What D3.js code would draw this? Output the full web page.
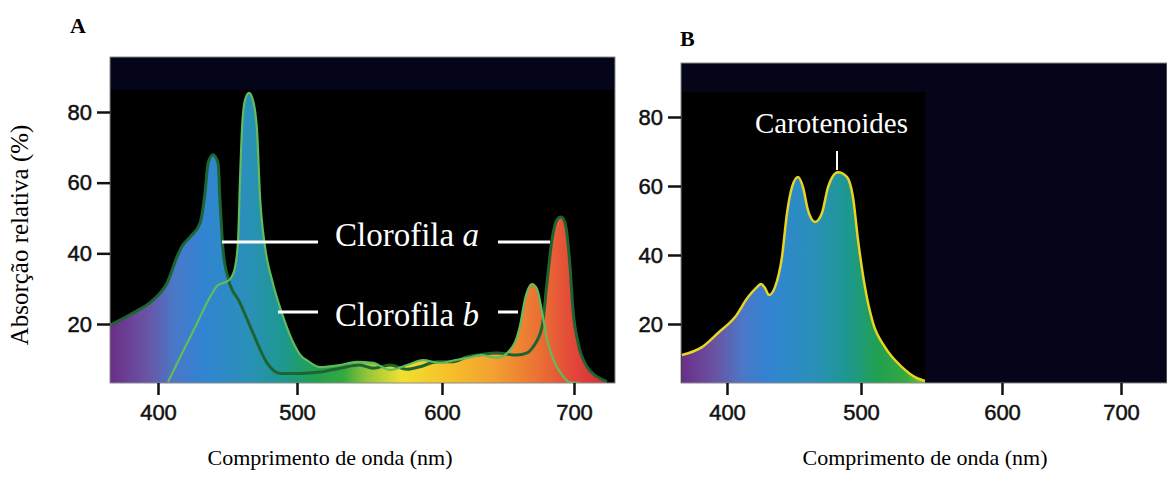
<!DOCTYPE html>
<html>
<head>
<meta charset="utf-8">
<script src="https://cdn.jsdelivr.net/npm/d3@7/dist/d3.min.js"></script>
<style>
  html, body { margin: 0; padding: 0; background: #ffffff; }
  svg { display: block; }
</style>
</head>
<body>
<svg id="chart" width="1167" height="491"></svg>
<script>
// ---- dados ----
// Clorofila a (contorno verde escuro)
var clorofilaA_nm  = [365.5, 382, 396.4, 406.5, 413.7, 417.3, 423, 430.2, 433.8, 436, 439.6, 443.2, 444.6, 446.8, 450.4, 459, 468.3, 478.4, 487.8, 502, 515.9, 529.7, 543.4, 552.4, 564.1, 575.9, 584.8, 596.6, 608.3, 618.9, 628.8, 641.7, 656.8, 664.4, 668.9, 675.8, 679.5, 683.3, 687.1, 690.2, 693.2, 697, 699.2, 703, 709.8, 717.4, 725];
var clorofilaA_abs = [19.7, 23.1, 26.8, 31.6, 39, 42, 44.6, 48.5, 57, 65.5, 67.9, 65.5, 55, 41, 33, 26, 17.5, 9, 6, 6, 6.4, 7.5, 8.4, 7.5, 8.4, 7.2, 7.9, 9.3, 9.3, 10.7, 11.3, 11.8, 11.2, 11.8, 13.5, 19.2, 31.6, 43.8, 49.5, 50.3, 48.6, 36.3, 24.1, 14.8, 7.9, 5.1, 3.7];

// Clorofila b (contorno verde claro)
var clorofilaB_nm  = [407.2, 417.3, 426.6, 436, 443.2, 446.8, 451.8, 455.4, 457.6, 459, 460.4, 462.6, 465.5, 468.3, 471.2, 473.4, 477, 482, 489.2, 496.4, 503.4, 506.9, 515.9, 529.7, 541.4, 552.4, 564.1, 575.9, 586.9, 598.6, 610.3, 619.4, 629.5, 641.7, 653.8, 659.1, 662.9, 668.2, 672, 675.8, 679.5, 684.1, 689.4, 697, 704.5];
var clorofilaB_abs = [3.6, 11.7, 19, 26.6, 31, 31.6, 32.7, 36, 43.7, 60.8, 75, 83.4, 85.4, 83.4, 75, 56, 41.8, 32.5, 23, 15.5, 10.7, 9.7, 7.8, 8.4, 9.3, 9, 7, 8.4, 9.8, 9, 9.8, 10.4, 11.2, 10.4, 13.8, 19.5, 27.1, 31.3, 29.9, 23.4, 15.8, 10.1, 6.4, 3.5, 3.3];

// Carotenoides (contorno amarelo)
var carotenoides_nm  = [366.4, 381.3, 393.3, 406, 415.7, 422.4, 425.4, 428.4, 431.3, 435.8, 441, 444.8, 448.5, 453, 456.7, 460.4, 465.7, 470.9, 475.4, 482.8, 489.6, 494, 497.8, 502.8, 508.5, 517, 529.1, 538.3, 545.4];
var carotenoides_abs = [11, 13.3, 17.4, 22, 27.8, 30.7, 31.6, 30.4, 28.4, 30.7, 39.4, 52.2, 59.7, 62.6, 59.7, 53, 49.6, 52.2, 59.7, 64, 62.6, 56.8, 44.3, 30.7, 20.3, 13.3, 7.5, 4.6, 3.5];

// eixos
var xTicks = [400, 500, 600, 700];
var yTicks = [20, 40, 60, 80];

// espectro visivel (cor do preenchimento)
var spectrumNm     = [365, 392, 412, 432, 465, 490, 512, 532, 548, 572, 600, 640, 675, 700, 725];
var spectrumColors = ["#6a2d86", "#6a54a4", "#4a78c8", "#3184d2", "#2a90b8", "#1d9890", "#22a050", "#34a840", "#92c63a", "#f0e030", "#f6c42a", "#f2a030", "#ea6e34", "#e2463a", "#d62a36"];

var chartObj = {

	svg : null,

	/**
	 * caixas dos dois paineis (pixels)
	 */
	layout : {
		A : { left : 110, right : 615, top : 57, bottom : 383, band : 90, blackRight : 615,
		      xRange : [158, 297, 442, 574], yRange : [324, 112], label : "A", labelX : 70, labelY : 33, titleX : 330 },
		B : { left : 681, right : 1167, top : 63, bottom : 383, band : 92, blackRight : 925,
		      xRange : [727, 861, 1002, 1121], yRange : [324, 117], label : "B", labelX : 680, labelY : 46, titleX : 925 }
	},

	colors : {
		navy : "#05051a",
		black : "#000000",
		frame : "#8a8a8a",
		clorofilaA : "#1c6532",
		clorofilaB : "#62bb5c",
		carotenoides : "#e8d422"
	},

	init : function(id) {
		var that = this;
		that.svg = d3.select(id);
		that.drawPanel("A");
		that.drawPanel("B");
	},

	toPoints : function(nm, abs) {
		return nm.map(function(d, i) { return { nm : d, v : abs[i] }; });
	},

	drawPanel : function(key) {
		var that = this;
		var box = that.layout[key];
		var g = that.svg.append("g");

		var x = d3.scaleLinear().domain(xTicks).range(box.xRange);
		var y = d3.scaleLinear().domain([20, 80]).range(box.yRange);

		// fundo
		g.append("rect").attr("x", box.left).attr("y", box.top)
			.attr("width", box.right - box.left).attr("height", box.bottom - box.top)
			.attr("fill", that.colors.navy);
		g.append("rect").attr("x", box.left).attr("y", box.band)
			.attr("width", box.blackRight - box.left).attr("height", box.bottom - box.band)
			.attr("fill", that.colors.black);

		// gradiente do espectro
		var gradId = "spec" + key;
		var x1 = x(spectrumNm[0]);
		var x2 = x(spectrumNm[spectrumNm.length - 1]);
		var defs = g.append("defs");
		var grad = defs.append("linearGradient")
			.attr("id", gradId).attr("gradientUnits", "userSpaceOnUse")
			.attr("x1", x1).attr("x2", x2).attr("y1", 0).attr("y2", 0);
		spectrumNm.forEach(function(nm, i) {
			grad.append("stop").attr("offset", (x(nm) - x1) / (x2 - x1)).attr("stop-color", spectrumColors[i]);
		});

		var clipId = "clip" + key;
		defs.append("clipPath").attr("id", clipId).append("rect")
			.attr("x", box.left).attr("y", box.top)
			.attr("width", box.right - box.left).attr("height", box.bottom - box.top);

		var area = d3.area().curve(d3.curveMonotoneX)
			.x(function(d) { return x(d.nm); })
			.y0(box.bottom)
			.y1(function(d) { return y(d.v); });
		var line = d3.line().curve(d3.curveMonotoneX)
			.x(function(d) { return x(d.nm); })
			.y(function(d) { return y(d.v); });

		var plot = g.append("g").attr("clip-path", "url(#" + clipId + ")");

		var series;
		if (key == "A") {
			series = [
				{ pts : that.toPoints(clorofilaA_nm, clorofilaA_abs), color : that.colors.clorofilaA, w : 3 },
				{ pts : that.toPoints(clorofilaB_nm, clorofilaB_abs), color : that.colors.clorofilaB, w : 2.2 }
			];
		} else {
			series = [
				{ pts : that.toPoints(carotenoides_nm, carotenoides_abs), color : that.colors.carotenoides, w : 2.5 }
			];
		}

		series.forEach(function(s) {
			plot.append("path").datum(s.pts).attr("d", area).attr("fill", "url(#" + gradId + ")");
		});
		series.forEach(function(s) {
			plot.append("path").datum(s.pts).attr("d", line).attr("fill", "none")
				.attr("stroke", s.color).attr("stroke-width", s.w).attr("stroke-linejoin", "round");
		});

		// moldura
		g.append("rect").attr("x", box.left).attr("y", box.top)
			.attr("width", box.right - box.left).attr("height", box.bottom - box.top)
			.attr("fill", "none").attr("stroke", that.colors.frame).attr("stroke-width", 1);

		// eixos
		var yAxis = g.append("g").attr("transform", "translate(" + box.left + ",0)")
			.call(d3.axisLeft(y).tickValues(yTicks).tickSize(13).tickPadding(5).tickFormat(d3.format("d")));
		var xAxis = g.append("g").attr("transform", "translate(0," + box.bottom + ")")
			.call(d3.axisBottom(x).tickValues(xTicks).tickSize(12).tickPadding(9).tickFormat(d3.format("d")));
		[yAxis, xAxis].forEach(function(ax) {
			ax.select(".domain").remove();
			ax.selectAll(".tick line").attr("stroke", "#111").attr("stroke-width", 2.5);
			ax.selectAll(".tick text").attr("fill", "#111")
				.attr("stroke", "#111").attr("stroke-width", 0.5)
				.attr("font-family", "'Liberation Sans', Arial, sans-serif").attr("font-size", "22px");
		});

		// titulo do eixo x
		that.drawText(g, box.titleX, 465, "Comprimento de onda (nm)", "22px", "middle");

		// letra do painel
		that.drawText(g, box.labelX, box.labelY, box.label, "22px", "start").attr("font-weight", "bold");

		if (key == "A") {
			that.drawText(that.svg, 0, 0, "Absorção relativa (%)", "25px", "middle")
				.attr("transform", "translate(28,235) rotate(-90)");
			that.drawAnnotations(g);
		} else {
			that.drawText(g, 755, 133, "Carotenoides", "29px", "start").attr("fill", "#ffffff");
			g.append("line").attr("x1", 837).attr("x2", 837).attr("y1", 151).attr("y2", 170)
				.attr("stroke", "#ffffff").attr("stroke-width", 2);
		}
	},

	drawAnnotations : function(g) {
		var that = this;
		var white = "#ffffff";
		var segs = [[222, 318, 242], [498, 550, 242], [278, 318, 312], [498, 518, 312]];
		segs.forEach(function(s) {
			g.append("line").attr("x1", s[0]).attr("x2", s[1]).attr("y1", s[2]).attr("y2", s[2])
				.attr("stroke", white).attr("stroke-width", 3);
		});
		var ta = that.drawText(g, 335, 246, "Clorofila ", "33px", "start").attr("fill", white);
		ta.append("tspan").attr("font-style", "italic").text("a");
		var tb = that.drawText(g, 335, 326, "Clorofila ", "33px", "start").attr("fill", white);
		tb.append("tspan").attr("font-style", "italic").text("b");
	},

	drawText : function(node, x, y, text, size, anchor) {
		return node.append("text").attr("x", x).attr("y", y).attr("fill", "#000000")
			.attr("font-size", size).attr("text-anchor", anchor)
			.attr("font-family", "'Liberation Serif', 'Times New Roman', serif")
			.style("white-space", "pre").text(text);
	}
};

chartObj.init("#chart");
</script>
</body>
</html>
